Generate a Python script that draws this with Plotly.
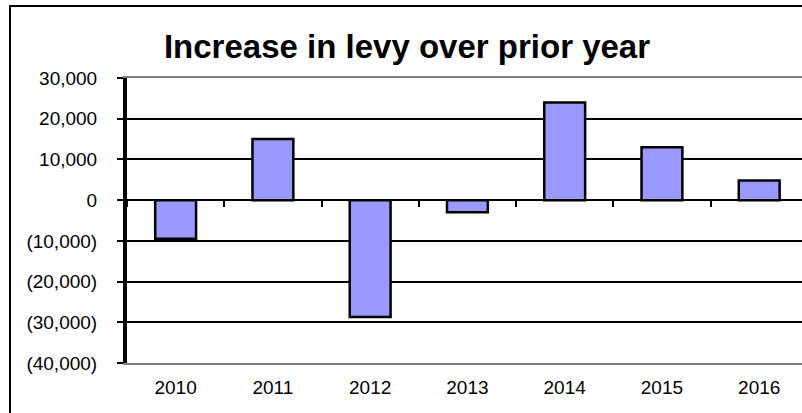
import plotly.graph_objects as go

years = ['2010', '2011', '2012', '2013', '2014', '2015', '2016']
increase = [-9500, 15000, -28700, -3000, 24000, 13000, 4800]

y_ticks = [30000, 20000, 10000, 0, -10000, -20000, -30000, -40000]
y_labels = ['30,000', '20,000', '10,000', '0', '(10,000)', '(20,000)', '(30,000)', '(40,000)']

FONT = 'Arial, Liberation Sans, sans-serif'
W, H = 802, 413
L, R, T, B = 127, 0, 78, 50

fig = go.Figure()
fig.add_trace(
    go.Bar(
        x=years,
        y=increase,
        width=0.42,
        marker=dict(color='#9999FF', line=dict(color='black', width=2.5)),
        hoverinfo='x+y',
    )
)
# invisible helper so the zero-line axis (with boundary ticks) is drawn
fig.add_trace(
    go.Scatter(
        x=years, y=[0] * len(years), xaxis='x2', mode='markers',
        marker=dict(opacity=0), hoverinfo='skip', showlegend=False,
    )
)

x_range = [-0.5, 6.44]
fig.update_layout(
    width=W,
    height=H,
    margin=dict(l=L, r=R, t=T, b=B),
    paper_bgcolor='white',
    plot_bgcolor='white',
    showlegend=False,
    title=dict(
        text='<b>Increase in levy over prior year</b>',
        font=dict(family=FONT, size=33, color='black'),
        xref='container', x=407 / W, xanchor='center',
        yref='container', y=1 - 46 / H, yanchor='middle',
    ),
    xaxis=dict(
        type='category',
        categoryorder='array', categoryarray=years,
        range=x_range,
        showgrid=False,
        showline=True, linecolor='#808080', linewidth=2, mirror=True,
        ticks='',
        tickfont=dict(family=FONT, size=19, color='black'),
        ticklabelstandoff=6,
        zeroline=False,
    ),
    xaxis2=dict(
        type='category',
        categoryorder='array', categoryarray=years,
        range=x_range,
        overlaying='x',
        anchor='free',
        position=40000 / 70000,
        showgrid=False,
        showline=True, linecolor='black', linewidth=2,
        ticks='outside', tickson='boundaries', ticklen=6, tickwidth=2, tickcolor='black',
        showticklabels=False,
        zeroline=False,
    ),
    yaxis=dict(
        range=[-40000, 30000],
        tickmode='array', tickvals=y_ticks, ticktext=y_labels,
        showgrid=True, gridcolor='black', gridwidth=2,
        zeroline=True, zerolinecolor='black', zerolinewidth=2,
        showline=True, linecolor='black', linewidth=4,
        ticks='outside', ticklen=6, tickwidth=2, tickcolor='black',
        tickfont=dict(family=FONT, size=19, color='black'),
        ticklabelstandoff=16,
    ),
)

# outer chart border (cropped on right and bottom like the reference)
px_x0 = (10 - L) / (W - L - R)
px_y1 = (H - B - 6) / (H - T - B)
fig.add_shape(
    type='rect', xref='paper', yref='paper',
    x0=px_x0, x1=1.05, y0=-0.3, y1=px_y1,
    line=dict(color='black', width=2), fillcolor='rgba(0,0,0,0)',
    layer='above',
)

fig.write_html(
    'out.html',
    config={'displayModeBar': False},
    post_script="document.body.style.margin='0px';",
)
